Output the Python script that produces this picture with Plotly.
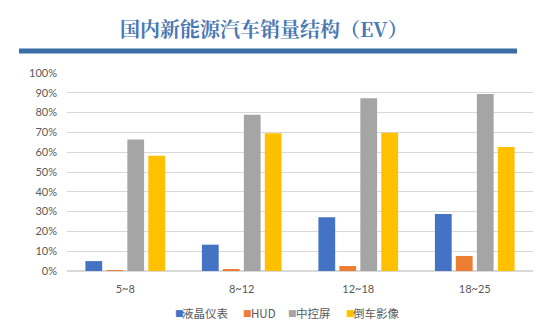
import plotly.graph_objects as go

categories = ["5~8", "8~12", "12~18", "18~25"]
series_names = ["液晶仪表", "HUD", "中控屏", "倒车影像"]
lcd = [0.05, 0.133, 0.272, 0.288]
hud = [0.005, 0.008, 0.025, 0.076]
center = [0.664, 0.789, 0.873, 0.894]
reverse = [0.582, 0.696, 0.698, 0.626]
colors = ["#4472C4", "#ED7D31", "#A5A5A5", "#FFC000"]
yticks = [i / 10 for i in range(11)]
title_text = "国内新能源汽车销量结构（EV）"
legend_x = [173, 241.5, 286.5, 344]  # left edge of each legend swatch (px)

fig = go.Figure()
for name, vals, col in zip(series_names, [lcd, hud, center, reverse], colors):
    fig.add_trace(go.Bar(x=categories, y=vals, name=name, marker=dict(color=col, line=dict(width=0))))

W, H = 554, 326
L, R, T, B = 67, 21, 73, 55
pw, ph = W - L - R, H - T - B

def px_x(x):
    return (x - L) / pw

def px_y(y):
    return (H - B - y) / ph

annotations = [dict(text="<b>" + title_text + "</b>", xref="paper", yref="paper",
                    x=px_x(264), y=px_y(29), xanchor="center", yanchor="middle",
                    showarrow=False,
                    font=dict(family="Noto Serif CJK SC, Noto Sans CJK SC, serif", size=20, color="#4A78B4"))]
for name, col, lx in zip(series_names, colors, legend_x):
    annotations.append(dict(text="■", xref="paper", yref="paper", x=px_x(lx - 0.5), y=px_y(313),
                            xanchor="left", yanchor="middle", showarrow=False,
                            font=dict(family="DejaVu Sans", size=9, color=col)))
    annotations.append(dict(text=name, xref="paper", yref="paper", x=px_x(lx + 7), y=px_y(313),
                            xanchor="left", yanchor="middle", showarrow=False,
                            font=dict(family="Noto Sans CJK SC, sans-serif", size=11.5, color="#595959")))

fig.update_layout(
    width=W, height=H,
    margin=dict(l=L, r=R, t=T, b=B, autoexpand=False),
    paper_bgcolor="white", plot_bgcolor="white",
    barmode="group", bargap=0.28, bargroupgap=0.2,
    font=dict(family="Lato, Noto Sans CJK SC, sans-serif", size=11, color="#595959"),
    showlegend=False,
    xaxis=dict(showgrid=False, showline=False, ticks="", ticklabelstandoff=10,
               tickfont=dict(size=11, color="#595959")),
    yaxis=dict(range=[0, 1], tickvals=yticks, tickformat=".0%", showgrid=True,
               gridcolor="#D9D9D9", gridwidth=1, zeroline=True, zerolinecolor="#D9D9D9",
               showline=False, ticks="", ticklabelstandoff=9,
               tickfont=dict(size=11, color="#595959")),
    annotations=annotations,
    shapes=[dict(type="rect", xref="paper", yref="paper", x0=px_x(19), x1=px_x(517),
                 y0=px_y(53.5), y1=px_y(48.5), fillcolor="#3A6CA5", line=dict(width=0))],
)

fig.write_html("out.html")
